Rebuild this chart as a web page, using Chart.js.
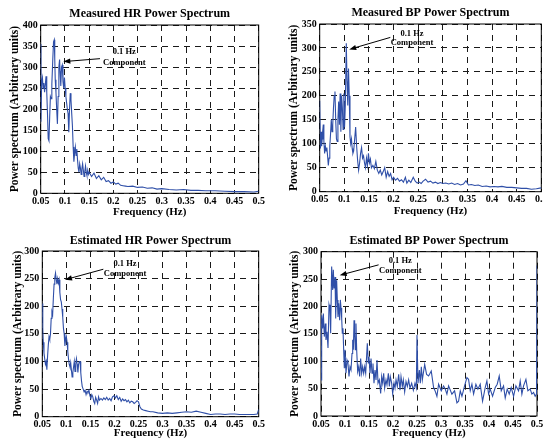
<!DOCTYPE html>
<html><head><meta charset="utf-8">
<script src="https://cdn.jsdelivr.net/npm/chart.js@4/dist/chart.umd.min.js"></script>
<style>
html,body{margin:0;padding:0;background:#fff;overflow:hidden;width:543px;height:443px}
canvas{position:absolute;left:0;top:0}
</style></head><body>
<canvas id="c1" width="543" height="443"></canvas>
<canvas id="c2" width="543" height="443"></canvas>
<canvas id="c3" width="543" height="443"></canvas>
<canvas id="c4" width="543" height="443"></canvas>
<script>
// ---------- DATA ----------
const xTicks = [0.05,0.1,0.15,0.2,0.25,0.3,0.35,0.4,0.45,0.5];
const xTickLabels = ['0.05','0.1','0.15','0.2','0.25','0.3','0.35','0.4','0.45','0.5'];
const yTicksMHR = [0,50,100,150,200,250,300,350,400];
const yTicksMBP = [0,50,100,150,200,250,300,350];
const yTicksEHR = [0,50,100,150,200,250,300];
const yTicksEBP = [0,50,100,150,200,250,300];

const titles = ['Measured HR Power Spectrum','Measured BP Power Spectrum','Estimated HR Power Spectrum','Estimated BP Power Spectrum'];
const xTitle = 'Frequency (Hz)';
const yTitle = 'Power spectrum (Arbitrary units)';
const noteLine1 = '0.1 Hz';
const noteLine2 = 'Component';

// Measured HR
const mhrFreq = [0.05,0.0505,0.052,0.0535,0.055,0.0565,0.058,0.0595,0.061,0.0625,
0.064,0.0655,0.067,0.0685,0.07,0.0715,0.073,0.075,0.0765,0.078,
0.079,0.08,0.0815,0.083,0.0845,0.086,0.0875,0.089,0.09,0.0915,
0.093,0.0945,0.096,0.0975,0.099,0.1005,0.102,0.1035,0.105,0.1065,
0.108,0.1095,0.111,0.1125,0.114,0.1155,0.117,0.1185,0.12,0.1215,
0.123,0.1245,0.126,0.1275,0.129,0.1305,0.132,0.1335,0.135,0.1365,
0.138,0.1395,0.141,0.1425,0.144,0.1455,0.147,0.1485,0.15,
0.155,0.16,0.165,0.17,0.175,0.18,0.185,0.19,0.195,0.2,0.205,0.21,0.215,0.22,0.225,0.23,
0.24,0.25,0.26,0.27,0.28,0.29,0.3,
0.315,0.33,0.345,0.36,0.375,0.39,
0.41,0.43,0.45,0.47,0.49,0.5];
const mhrPower = [355,170,265,275,250,262,240,258,278,240,
190,130,125,180,230,225,260,320,360,365,
320,270,240,200,165,230,300,318,290,255,
300,305,265,250,275,250,230,215,200,190,
145,200,238,222,190,160,110,75,95,110,
90,105,80,60,50,70,60,45,58,70,
55,40,52,65,50,42,55,45,50,
40,48,35,42,32,38,28,30,24,27,22,24,19,18,17,16,
17,14,15,12,13,10,11,
9,8,9,7,7,6,
6,5,4,4,3,5];

// Measured BP
const mbpFreq = [0.05,0.0515,0.0527,0.054,0.055,0.056,0.0573,0.0585,0.06,0.0615,
0.063,0.0645,0.066,0.0675,0.069,0.0705,0.072,0.0735,0.075,0.0765,
0.078,0.0795,0.081,0.0825,0.084,0.0855,0.087,0.0885,0.09,0.0915,
0.093,0.0945,0.096,0.0975,0.099,0.1005,0.102,0.104,0.1055,0.107,
0.1085,0.11,0.1115,0.113,0.1145,0.116,0.1175,0.119,0.121,0.123,
0.125,0.127,0.129,0.131,0.133,0.135,0.137,0.139,0.141,0.143,
0.145,0.147,0.149,0.151,0.153,0.155,0.158,0.161,0.164,0.167,
0.17,0.173,0.176,0.179,0.182,0.185,0.188,0.191,0.194,0.197,
0.2,0.204,0.208,0.212,0.216,0.22,0.224,0.227,0.231,0.235,
0.24,0.244,0.248,0.252,0.256,0.26,0.265,0.27,0.275,0.28,
0.285,0.29,0.295,0.3,0.306,0.312,0.318,0.324,0.33,0.336,
0.342,0.347,0.352,0.358,0.365,0.372,0.38,0.388,0.396,0.404,
0.412,0.42,0.43,0.44,0.45,0.46,0.47,0.48,0.49,0.5];
const mbpPower = [190,90,125,95,110,125,140,105,80,95,
85,92,75,55,70,95,120,150,125,140,
175,200,209,150,110,105,150,188,140,205,
125,200,175,130,205,135,180,310,230,180,
257,200,115,100,110,90,80,85,110,135,
95,65,45,60,80,92,70,75,60,50,
70,55,80,60,68,50,55,48,63,45,
38,45,35,42,50,30,42,32,38,25,
30,24,28,22,25,20,30,18,24,19,
30,22,18,20,17,22,26,20,22,18,
20,17,19,17,18,16,18,15,17,14,
16,23,14,15,13,14,11,12,10,11,
10,11,9,9,8,7,7,5,6,8];

// Estimated HR
const ehrFreq = [0.05,0.051,0.052,0.0535,0.055,0.0565,0.058,0.0595,0.061,0.0625,
0.064,0.0655,0.067,0.0685,0.07,0.0715,0.073,0.0745,0.076,0.0775,
0.079,0.0805,0.082,0.0835,0.085,0.0865,0.088,0.0895,0.091,0.0925,
0.094,0.0955,0.097,0.0985,0.1,0.1015,0.103,0.1045,0.106,0.1075,
0.109,0.1105,0.112,0.1135,0.115,0.1165,0.118,0.1195,0.121,0.1225,
0.124,0.1255,0.127,0.1285,0.13,0.1315,0.133,0.135,0.137,0.139,
0.141,0.143,0.145,0.147,0.149,0.151,0.153,0.155,0.157,0.159,
0.161,0.163,0.165,0.167,0.169,0.172,0.175,0.178,0.181,0.184,
0.187,0.19,0.193,0.196,0.199,0.202,0.205,0.208,0.211,0.214,
0.217,0.22,0.223,0.226,0.229,0.232,0.235,0.238,0.241,0.244,
0.247,0.25,0.253,0.256,0.26,0.265,0.27,0.275,0.28,0.29,
0.3,0.31,0.32,0.33,0.34,0.35,0.36,0.37,0.38,0.39,
0.4,0.41,0.42,0.43,0.44,0.45,0.46,0.47,0.48,0.49,
0.497,0.5];
const ehrPower = [205,160,135,115,105,95,100,85,110,130,
145,140,150,178,190,185,215,240,252,260,
248,240,250,242,248,225,212,208,195,180,
160,150,128,140,145,135,118,105,95,90,
98,85,72,80,90,100,82,95,105,95,
80,95,100,100,80,65,55,50,45,48,
40,46,44,48,38,33,40,36,28,24,
35,30,24,36,30,33,30,34,31,35,
30,33,29,36,38,34,38,31,35,28,
32,29,31,27,30,25,28,27,24,26,
29,27,18,14,12,11,10,9,9,7,
6,7,6,7,8,9,8,10,8,6,
4,5,5,4,5,5,4,4,4,4,
5,13];

// Estimated BP
const ebpFreq = [0.05,0.0514,0.0535,0.0549,0.0569,0.059,0.0604,0.0625,0.0646,0.0667,
0.0687,0.0701,0.0722,0.0743,0.0757,0.0771,0.0792,0.0806,0.0826,0.084,
0.0854,0.0868,0.0889,0.0903,0.0917,0.0931,0.0944,0.0958,0.0972,0.0986,
0.1,0.1021,0.1042,0.1062,0.1083,0.1104,0.1125,0.1146,0.116,0.1174,
0.1188,0.1201,0.1215,0.1229,0.1243,0.1264,0.1285,0.1306,0.1326,0.1347,
0.1368,0.1389,0.141,0.1431,0.1465,0.1486,0.15,0.1521,0.1542,0.1563,
0.1583,0.1604,0.1625,0.1646,0.1667,0.1688,0.1715,0.1743,0.1764,0.1785,
0.1806,0.1826,0.1854,0.1875,0.1903,0.1924,0.1944,0.1972,0.1993,0.2021,
0.2042,0.2063,0.209,0.2118,0.2146,0.2167,0.2194,0.2215,0.2243,0.2271,
0.2299,0.2326,0.2354,0.2389,0.2424,0.2458,0.2486,0.25,0.2521,0.2549,
0.2569,0.259,0.2611,0.2632,0.266,0.27,0.2742,0.2797,0.2846,0.2881,
0.2915,0.295,0.3005,0.3054,0.3089,0.3123,0.3158,0.3227,0.3283,0.3332,
0.3366,0.3401,0.3436,0.3491,0.354,0.3574,0.3609,0.3644,0.3679,0.3727,
0.3769,0.3817,0.3866,0.3921,0.3956,0.3991,0.4025,0.4074,0.413,0.4171,
0.4213,0.4255,0.4303,0.4338,0.438,0.4421,0.4463,0.4512,0.456,0.4616,
0.465,0.4685,0.472,0.4769,0.481,0.4858,0.4893,0.4928,0.4962,0.499,
0.5];
const ebpPower = [66,184,160,187,145,169,139,154,124,203,
194,151,273,230,267,233,254,178,248,212,
181,206,175,212,197,178,151,160,121,87,
121,78,102,96,72,90,84,114,139,121,
175,151,121,169,121,81,90,72,105,78,
90,78,90,78,133,96,108,78,105,78,
96,60,84,66,102,60,66,41,72,60,
78,51,66,57,78,54,72,60,41,60,
51,66,54,76,47,72,54,66,44,63,
54,66,51,60,47,60,51,148,60,84,
60,90,66,78,94,76,73,82,52,45,
36,58,46,55,49,40,55,40,46,24,
27,46,36,55,70,67,46,58,40,58,
49,58,27,52,64,40,49,36,52,58,
73,46,55,33,49,40,52,36,55,46,
64,40,55,67,46,49,40,43,36,40,
275];

// ---------- STYLE / LAYOUT ----------
const SERIF = '"Liberation Serif", "Times New Roman", serif';
const BLUE = '#2f4fa8';
const GRID = '#1a1a1a';
const PAGE_W = 543, PAGE_H = 443;

const boxes = [
  {L:40.7, R:258.7, T:25,    B:193.3, titleY:14.3, yTitleX:15,    xTitleY:211.7},
  {L:319.7,R:541.3, T:24,    B:191.7, titleY:13.3, yTitleX:293.7, xTitleY:210.7},
  {L:42.3, R:258.7, T:251,   B:416.7, titleY:241,  yTitleX:18.3,  xTitleY:433.3},
  {L:321,  R:537,   T:251.7, B:416,   titleY:241,  yTitleX:295.3, xTitleY:433.3}
];
// annotation anchors (data coordinates)
const notes = [
  {textF:0.2226, y1:336, y2:311, fromF:0.1724, fromV:320, toF:0.0967, toV:313},
  {textF:0.2374, y1:330, y2:310, fromF:0.1934, fromV:322, toF:0.110,  toV:297},
  {textF:0.222,  y1:276, y2:258, fromF:0.1769, fromV:267, toF:0.0972, toV:248},
  {textF:0.2152, y1:284, y2:266, fromF:0.170,  fromV:276, toF:0.089,  toV:257}
];

const framePlugin = {
  id: 'frame',
  beforeDatasetsDraw(chart) {
    const {ctx, chartArea: a} = chart;
    ctx.save();
    ctx.setLineDash([]);
    ctx.strokeStyle = '#000';
    ctx.lineWidth = 1;
    ctx.strokeRect(a.left, a.top, a.right - a.left, a.bottom - a.top);
    ctx.restore();
  },
  afterDatasetsDraw(chart, args, opts) {
    const n = notes[opts.idx];
    const {ctx} = chart;
    const xs = chart.scales.x, ys = chart.scales.y;
    ctx.save();
    ctx.fillStyle = '#000';
    ctx.font = 'bold 8.5px ' + SERIF;
    ctx.textAlign = 'center';
    ctx.textBaseline = 'middle';
    ctx.fillText(noteLine1, xs.getPixelForValue(n.textF), ys.getPixelForValue(n.y1));
    ctx.fillText(noteLine2, xs.getPixelForValue(n.textF), ys.getPixelForValue(n.y2));
    const x0 = xs.getPixelForValue(n.fromF), y0 = ys.getPixelForValue(n.fromV);
    const x1 = xs.getPixelForValue(n.toF), y1 = ys.getPixelForValue(n.toV);
    const ang = Math.atan2(y1 - y0, x1 - x0);
    const hl = 7, hw = 2.6;
    ctx.strokeStyle = '#000';
    ctx.lineWidth = 1;
    ctx.beginPath();
    ctx.moveTo(x0, y0);
    ctx.lineTo(x1 - Math.cos(ang) * hl * 0.8, y1 - Math.sin(ang) * hl * 0.8);
    ctx.stroke();
    ctx.beginPath();
    ctx.moveTo(x1, y1);
    ctx.lineTo(x1 - Math.cos(ang) * hl - Math.sin(ang) * hw, y1 - Math.sin(ang) * hl + Math.cos(ang) * hw);
    ctx.lineTo(x1 - Math.cos(ang) * hl + Math.sin(ang) * hw, y1 - Math.sin(ang) * hl - Math.cos(ang) * hw);
    ctx.closePath();
    ctx.fill();
    ctx.restore();
  }
};

function makeChart(idx, canvasId, freq, power, yMax, yTicks) {
  const box = boxes[idx];
  const fTitle = 12, fY = 11.5, fX = 11, lh = 1.2;
  const padTop = box.titleY - fTitle * lh / 2;
  const titlePadBottom = box.T - box.titleY - fTitle * lh / 2;
  const padLeft = box.yTitleX - fY * lh / 2;
  const yW = box.L - padLeft;
  const xBottom = box.xTitleY + fX * lh / 2;
  const xH = xBottom - box.B;
  const padBottom = PAGE_H - xBottom;
  const padRight = PAGE_W - box.R;
  const tickFont = {family: SERIF, size: 10, weight: 'bold'};
  new Chart(document.getElementById(canvasId), {
    type: 'line',
    data: {
      datasets: [{
        data: freq.map((f, i) => ({x: f, y: power[i]})),
        borderColor: BLUE, borderWidth: 1.1, pointRadius: 0, tension: 0, fill: false
      }]
    },
    options: {
      responsive: false, animation: false, events: [],
      layout: {padding: {top: padTop, left: padLeft, right: padRight, bottom: padBottom}},
      plugins: {
        legend: {display: false},
        tooltip: {enabled: false},
        title: {
          display: true, text: titles[idx], fullSize: false, color: '#000',
          font: {family: SERIF, size: fTitle, weight: 'bold', lineHeight: lh},
          padding: {top: 0, bottom: titlePadBottom}
        },
        frame: {idx: idx}
      },
      scales: {
        x: {
          type: 'linear', min: 0.05, max: 0.5,
          afterBuildTicks: s => { s.ticks = xTicks.map(v => ({value: v})); },
          afterFit: s => { s.height = xH; s.paddingLeft = 0; s.paddingRight = 0; },
          ticks: {
            callback: (v, i) => xTickLabels[i], color: '#000', font: tickFont,
            padding: 2, maxRotation: 0, minRotation: 0, autoSkip: false
          },
          grid: {color: GRID, lineWidth: 1, drawTicks: false},
          border: {display: false, dash: [6, 5]},
          title: {display: true, text: xTitle, color: '#000',
            font: {family: SERIF, size: fX, weight: 'bold', lineHeight: lh}, padding: 0}
        },
        y: {
          type: 'linear', min: 0, max: yMax,
          afterBuildTicks: s => { s.ticks = yTicks.map(v => ({value: v})); },
          afterFit: s => { s.width = yW; s.paddingTop = 0; s.paddingBottom = 0; },
          ticks: {
            callback: v => String(v), color: '#000', font: tickFont, padding: 3, autoSkip: false
          },
          grid: {color: GRID, lineWidth: 1, drawTicks: false},
          border: {display: false, dash: [6, 5]},
          title: {display: true, text: yTitle, color: '#000',
            font: {family: SERIF, size: fY, weight: 'bold', lineHeight: lh}, padding: 0}
        }
      }
    },
    plugins: [framePlugin]
  });
}

makeChart(0, 'c1', mhrFreq, mhrPower, 400, yTicksMHR);
makeChart(1, 'c2', mbpFreq, mbpPower, 350, yTicksMBP);
makeChart(2, 'c3', ehrFreq, ehrPower, 300, yTicksEHR);
makeChart(3, 'c4', ebpFreq, ebpPower, 300, yTicksEBP);
</script>
</body></html>
